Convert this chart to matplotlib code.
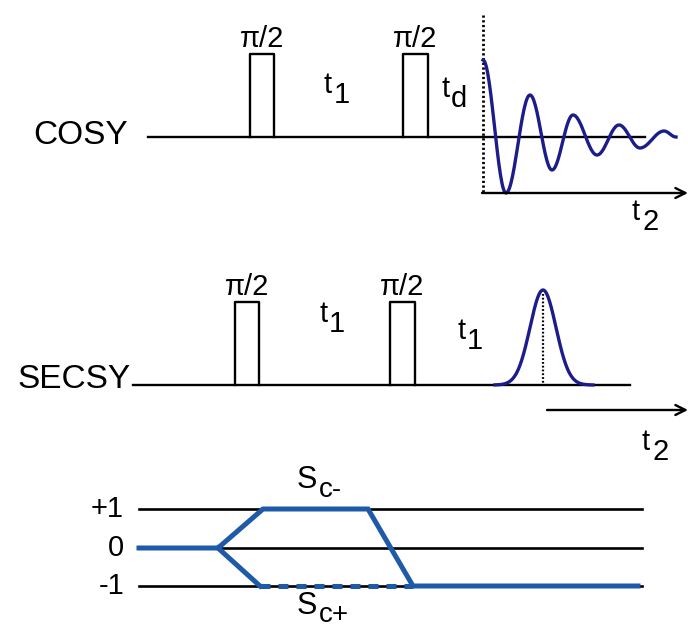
import matplotlib.pyplot as plt
import numpy as np

plt.rcParams['font.family'] = ['Liberation Sans', 'DejaVu Sans']

# pulse sequence layout (pixel units, y grows downward)
cosy_base = 137
cosy_span = [148, 645]
cosy_pulses = [[250, 274], [403, 428]]
cosy_pulse_top = 54

secsy_base = 385
secsy_span = [133, 630]
secsy_pulses = [[235, 259], [390, 415]]
secsy_pulse_top = 302

# FID extrema: positions and heights above the COSY baseline
fid_x = [483, 506, 530, 552, 573, 597, 619, 640, 664, 676]
fid_amp = [77, -56, 42, -33, 22, -18, 12, -11, 6, 0]

# echo in SECSY
echo_center = 543
echo_height = 95
echo_sigma = 13
echo_span = [495, 593]

# coherence levels
levels = [1, 0, -1]
level_y = [509, 548, 586]
level_labels = ['+1', '0', '-1']
level_span = [139, 642]
path_x = [139, 218, 263, 368, 413, 638]
path_p = [0, 0, 1, 1, -1, -1]
branch_x = [218, 260, 413]
branch_p = [0, -1, -1]

navy = '#1c1c8a'
blue = '#1f5aa8'

fig = plt.figure(figsize=(6.88, 6.28), dpi=100)
ax = fig.add_axes([0, 0, 1, 1])
ax.set_xlim(0, 688)
ax.set_ylim(628, 0)
ax.axis('off')

fs = 21


def sub_label(x, y, main, sub, size=fs, dx=10, dy=10):
    ax.text(x, y, main, fontsize=size, ha='left', va='baseline')
    ax.text(x + dx, y + dy, sub, fontsize=size, ha='left', va='baseline')


def pulse(x0, x1, base, top):
    ax.plot([x0, x0, x1, x1], [base, top, top, base], color='black', lw=1.7)


# COSY
ax.plot(cosy_span, [cosy_base, cosy_base], color='black', lw=1.7)
for x0, x1 in cosy_pulses:
    pulse(x0, x1, cosy_base, cosy_pulse_top)
    ax.text((x0 + x1) / 2, cosy_pulse_top - 7, 'π/2', fontsize=21, ha='center', va='baseline')
ax.text(128, cosy_base - 2, 'COSY', fontsize=24, ha='right', va='center')
sub_label(324, 93, 't', '1')
sub_label(441, 97, 't', 'd')
sub_label(632, 220, 't', '2')

ax.plot([fid_x[0], fid_x[0]], [15, 193], color='black', lw=2.0, ls=(0, (0.8, 0.9)))
ax.annotate('', xy=(688, 193), xytext=(fid_x[0] - 1, 193),
            arrowprops=dict(arrowstyle='->', color='black', lw=1.7,
                            mutation_scale=18, shrinkA=0, shrinkB=0))

# FID drawn as half-cosine segments between extrema
xs, ys = [], []
for i in range(len(fid_x) - 1):
    s = np.linspace(0, 1, 30)
    a0, a1 = fid_amp[i], fid_amp[i + 1]
    w = (1 - np.cos(np.pi * s)) / 2
    xs.extend(fid_x[i] + (fid_x[i + 1] - fid_x[i]) * s)
    ys.extend(a0 + (a1 - a0) * w)
ax.plot(xs, cosy_base - np.array(ys), color=navy, lw=2.4)

# SECSY
ax.plot(secsy_span, [secsy_base, secsy_base], color='black', lw=1.7)
for x0, x1 in secsy_pulses:
    pulse(x0, x1, secsy_base, secsy_pulse_top)
    ax.text((x0 + x1) / 2, secsy_pulse_top - 7, 'π/2', fontsize=21, ha='center', va='baseline')
ax.text(131, secsy_base - 5, 'SECSY', fontsize=24, ha='right', va='center')
sub_label(319, 322, 't', '1')
sub_label(457, 339, 't', '1')

ex = np.linspace(echo_span[0], echo_span[1], 200)
ey = echo_height * np.exp(-0.5 * ((ex - echo_center) / echo_sigma) ** 2)
ax.plot(ex, secsy_base - ey, color=navy, lw=2.4)
ax.plot([echo_center, echo_center], [secsy_base - echo_height + 4, secsy_base],
        color='black', lw=1.6, ls=(0, (0.8, 0.9)))
ax.annotate('', xy=(688, 410), xytext=(547, 410),
            arrowprops=dict(arrowstyle='->', color='black', lw=1.7,
                            mutation_scale=18, shrinkA=0, shrinkB=0))
sub_label(642, 450, 't', '2')

# coherence transfer pathway
py = dict(zip(levels, level_y))
for yv, lab in zip(level_y, level_labels):
    ax.plot(level_span, [yv, yv], color='black', lw=1.9)
    ax.text(124, yv, lab, fontsize=21, ha='right', va='center')
ax.plot(path_x, [py[p] for p in path_p], color=blue, lw=3.6, solid_joinstyle='miter')
ax.plot(branch_x[:2], [py[p] for p in branch_p[:2]], color=blue, lw=3.6)
ax.plot(branch_x[1:], [py[p] for p in branch_p[1:]], color=blue, lw=3.6, ls=(0, (2, 1.6)))

ax.text(297, 488, 'S', fontsize=22, ha='left', va='baseline')
ax.text(319, 497, 'c-', fontsize=20, ha='left', va='baseline')
ax.text(297, 614, 'S', fontsize=22, ha='left', va='baseline')
ax.text(319, 622, 'c+', fontsize=20, ha='left', va='baseline')

fig.savefig('out.png', dpi=100)
